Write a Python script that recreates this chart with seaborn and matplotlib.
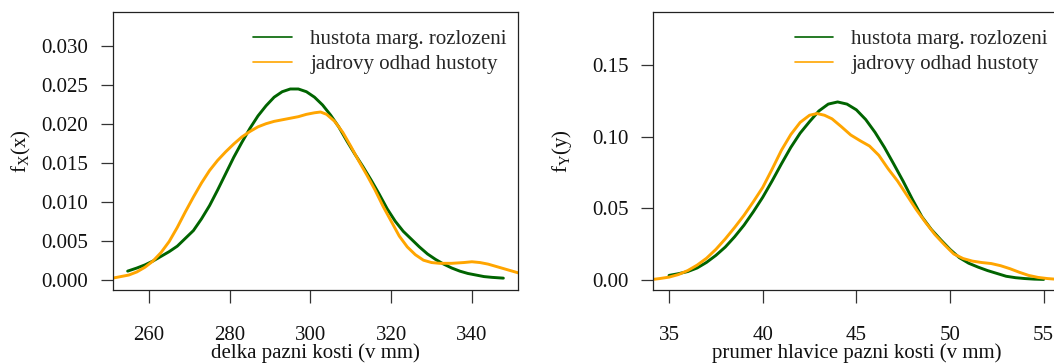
import matplotlib
matplotlib.use("Agg")
import matplotlib.pyplot as plt
from matplotlib.lines import Line2D
import pandas as pd
import seaborn as sns

sns.set_theme(style="ticks")
plt.rcParams.update({
    "font.family": ["Liberation Serif", "DejaVu Serif"],
    "mathtext.fontset": "custom",
    "mathtext.rm": "Liberation Serif",
    "mathtext.it": "Liberation Serif:italic",
    "font.size": 15,
})

green = "#006400"
orange = "#FFA500"
labels = ["hustota marg. rozlozeni", "jadrovy odhad hustoty"]

# panel 1: delka pazni kosti
len_green_x = [254.7, 257, 259, 261, 263, 265, 267, 269, 271, 273, 275, 277, 279, 281, 283,
               285, 287, 289, 291, 293, 295, 297, 299, 301, 303, 305, 307, 309, 311, 313,
               315, 317, 319, 321, 323, 325, 327, 329, 331, 333, 335, 337, 339, 341, 343,
               345, 347.8]
len_green_y = [0.0011, 0.0015, 0.0019, 0.0024, 0.0030, 0.0036, 0.0043, 0.0053, 0.0063,
               0.0078, 0.0095, 0.0115, 0.0136, 0.0157, 0.0176, 0.0194, 0.0210, 0.0223,
               0.0234, 0.0241, 0.02445, 0.02445, 0.0241, 0.0234, 0.0224, 0.0211, 0.0196,
               0.0178, 0.0161, 0.0145, 0.0128, 0.0110, 0.0091, 0.0075, 0.0062, 0.0052,
               0.0042, 0.0033, 0.0026, 0.0020, 0.0015, 0.0011, 0.0008, 0.0006, 0.0004,
               0.0003, 0.0002]
len_orange_x = [248, 251, 253, 255, 257, 259, 261, 263, 265, 267, 269, 271, 273, 275, 277,
                279, 281, 283, 285, 287, 289, 291, 293, 295, 297, 299, 301, 302.5, 304,
                306, 308, 310, 312, 314, 316, 318, 320, 322, 324, 326, 328, 330, 332, 335,
                338, 340, 342, 344, 346, 348, 350, 352, 355]
len_orange_y = [0.0001, 0.0002, 0.0004, 0.0006, 0.0010, 0.0016, 0.0024, 0.0035, 0.0049,
                0.0067, 0.0087, 0.0106, 0.0124, 0.0140, 0.0153, 0.0164, 0.0174, 0.0183,
                0.0190, 0.0196, 0.0200, 0.0203, 0.0205, 0.0207, 0.0209, 0.0212, 0.0214,
                0.0215, 0.0212, 0.0203, 0.0189, 0.0171, 0.0152, 0.0134, 0.0115, 0.0094,
                0.0075, 0.0056, 0.0042, 0.0032, 0.0025, 0.0022, 0.0021, 0.0021, 0.0022,
                0.0023, 0.0022, 0.0020, 0.0017, 0.0014, 0.0011, 0.0008, 0.0005]

# panel 2: prumer hlavice pazni kosti
head_green_x = [35.0, 35.5, 36.0, 36.5, 37.0, 37.5, 38.0, 38.5, 39.0, 39.5, 40.0, 40.5,
                41.0, 41.5, 42.0, 42.5, 43.0, 43.5, 44.0, 44.5, 45.0, 45.5, 46.0, 46.5,
                47.0, 47.5, 48.0, 48.5, 49.0, 49.5, 50.0, 50.5, 51.0, 51.5, 52.0, 52.5,
                53.0, 53.5, 54.0, 54.5, 55.0]
head_green_y = [0.0030, 0.0042, 0.0057, 0.0082, 0.0121, 0.0170, 0.0228, 0.0300, 0.0381,
                0.0475, 0.0576, 0.0690, 0.0810, 0.0925, 0.1025, 0.1105, 0.1180, 0.1228,
                0.1243, 0.1228, 0.1188, 0.1120, 0.1030, 0.0925, 0.0808, 0.0688, 0.0560,
                0.0440, 0.0352, 0.0280, 0.0212, 0.0154, 0.0115, 0.0088, 0.0064, 0.0044,
                0.0024, 0.0014, 0.0008, 0.0004, 0.0002]
head_orange_x = [34.0, 34.5, 35.0, 35.5, 36.0, 36.5, 37.0, 37.5, 38.0, 38.5, 39.0, 39.5,
                 40.0, 40.5, 41.0, 41.5, 42.0, 42.5, 42.9, 43.3, 43.7, 44.2, 44.7, 45.2,
                 45.7, 46.2, 46.7, 47.2, 47.7, 48.2, 48.7, 49.2, 49.7, 50.2, 50.7, 51.2,
                 51.7, 52.2, 52.7, 53.2, 53.7, 54.2, 54.7, 55.2, 55.7, 56.0]
head_orange_y = [0.0000, 0.0008, 0.0018, 0.0036, 0.0064, 0.0102, 0.0150, 0.0212, 0.0285,
                 0.0365, 0.0450, 0.0545, 0.0645, 0.0772, 0.0905, 0.1015, 0.1100, 0.1150,
                 0.1162, 0.1150, 0.1125, 0.1070, 0.1012, 0.0972, 0.0935, 0.0870, 0.0775,
                 0.0690, 0.0590, 0.0490, 0.0400, 0.0315, 0.0245, 0.0180, 0.0148, 0.0130,
                 0.0120, 0.0113, 0.0098, 0.0077, 0.0052, 0.0030, 0.0016, 0.0008, 0.0003,
                 0.0002]


def long_df(gx, gy, ox, oy):
    a = pd.DataFrame({"x": gx, "y": gy, "curve": labels[0]})
    b = pd.DataFrame({"x": ox, "y": oy, "curve": labels[1]})
    return pd.concat([a, b], ignore_index=True)


W, H = 1054, 364
fig = plt.figure(figsize=(W / 100, H / 100), dpi=100)
ax1 = fig.add_axes([112.7 / W, 74 / H, (518.3 - 112.7) / W, 278 / H])
ax2 = fig.add_axes([653.3 / W, 74 / H, (1059.4 - 653.3) / W, 278 / H])

panels = [
    (ax1, long_df(len_green_x, len_green_y, len_orange_x, len_orange_y),
     (251.0, 351.5), (-0.00132, 0.03432), [260, 280, 300, 320, 340],
     [0, 0.005, 0.010, 0.015, 0.020, 0.025, 0.030], "{:.3f}",
     "delka pazni kosti (v mm)", r"f$_{\mathrm{X}}$(x)", 0.347, 405.6),
    (ax2, long_df(head_green_x, head_green_y, head_orange_x, head_orange_y),
     (34.16, 55.84), (-0.0072, 0.1872), [35, 40, 45, 50, 55],
     [0, 0.05, 0.10, 0.15], "{:.2f}",
     "prumer hlavice pazni kosti (v mm)", r"f$_{\mathrm{Y}}$(y)", 0.348, 406.1),
]

for ax, df, xl, yl, xt, yt, fmt, xlab, ylab, lx, wpx in panels:
    sns.lineplot(data=df, x="x", y="y", hue="curve", palette=[green, orange],
                 hue_order=labels, ax=ax, lw=2.1, legend=False, sort=False)
    ax.set_xlim(*xl)
    ax.set_ylim(*yl)
    ax.set_xticks(xt)
    ax.set_xticklabels([str(v) for v in xt])
    ax.set_yticks(yt)
    ax.set_yticklabels([fmt.format(v) for v in yt])
    ax.tick_params(axis="both", direction="out", length=9, width=0.9, color="#333333",
                   labelsize=15, labelcolor="#111111")
    ax.tick_params(axis="x", pad=17)
    ax.tick_params(axis="y", pad=9)
    for s in ax.spines.values():
        s.set_visible(True)
        s.set_linewidth(0.9)
        s.set_color("#222222")
    ax.set_xlabel(xlab, fontsize=15, color="#111111", labelpad=-1)
    ax.set_ylabel(ylab, fontsize=15, color="#111111")
    ax.yaxis.set_label_coords(-91.5 / wpx, 0.5)
    ax.yaxis.label.set_va("center")
    handles = [Line2D([], [], color=green, lw=1.2), Line2D([], [], color=orange, lw=1.2)]
    ax.legend(handles, labels, loc="upper left", bbox_to_anchor=(lx, 0.937),
              frameon=False, fontsize=15, handlelength=1.83, handletextpad=0.9,
              labelspacing=0.26, borderpad=0, borderaxespad=0)

fig.savefig("out.png", dpi=100)
